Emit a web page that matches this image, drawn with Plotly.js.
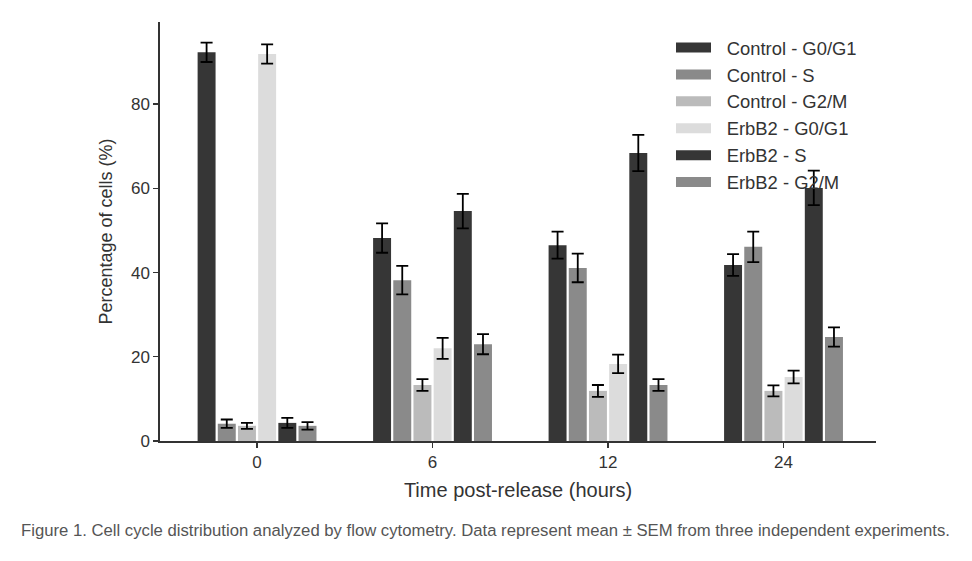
<!DOCTYPE html>
<html>
<head>
<meta charset="utf-8">
<script src="https://cdn.plot.ly/plotly-3.0.1.min.js"></script>
<style>
  html, body { margin: 0; padding: 0; background: #ffffff; }
  #chart { width: 972px; height: 561px; }
</style>
</head>
<body>
<div id="chart"></div>
<script>
// Time points after release (hours)
const timePoints = ['0', '6', '12', '24'];

// Series names and fill colours
const seriesNames = [
  'Control - G0/G1', 'Control - S', 'Control - G2/M',
  'ErbB2 - G0/G1', 'ErbB2 - S', 'ErbB2 - G2/M'
];
const seriesColors = ['#363636', '#8a8a8a', '#bbbbbb', '#dcdcdc', '#363636', '#8a8a8a'];

// Mean percentage of cells per phase
const controlG0G1 = [92.3, 48.2, 46.5, 41.8];
const controlS    = [4.1, 38.2, 41.1, 46.1];
const controlG2M  = [3.6, 13.3, 11.9, 11.9];
const erbb2G0G1   = [91.9, 22.0, 18.3, 15.2];
const erbb2S      = [4.3, 54.6, 68.4, 60.1];
const erbb2G2M    = [3.6, 23.0, 13.3, 24.7];

// Standard error of the mean
const controlG0G1Sem = [2.3, 3.5, 3.2, 2.6];
const controlSSem    = [1.0, 3.4, 3.4, 3.6];
const controlG2MSem  = [0.7, 1.4, 1.4, 1.3];
const erbb2G0G1Sem   = [2.3, 2.5, 2.2, 1.5];
const erbb2SSem      = [1.2, 4.1, 4.3, 4.1];
const erbb2G2MSem    = [0.9, 2.4, 1.4, 2.3];

const means = [controlG0G1, controlS, controlG2M, erbb2G0G1, erbb2S, erbb2G2M];
const sems  = [controlG0G1Sem, controlSSem, controlG2MSem, erbb2G0G1Sem, erbb2SSem, erbb2G2MSem];

const font = 'Liberation Sans, Arial, Helvetica, sans-serif';
const ink = '#333333';

// Plot area in pixels, used to place the caption and legend
const plotL = 160, plotT = 22, plotW = 716, plotH = 419;

const traces = [];
means.forEach((vals, i) => {
  traces.push({
    type: 'bar',
    x: timePoints,
    y: vals,
    name: seriesNames[i],
    showlegend: false,
    marker: { color: seriesColors[i], line: { width: 0 } },
    error_y: { type: 'data', array: sems[i], visible: true, color: '#000000', thickness: 1.8, width: 6 },
    hoverinfo: 'x+y'
  });
});

// Legend entries drawn as wide colour patches; a small leading space
// separates the label from its patch
seriesNames.forEach((name, i) => {
  traces.push({
    type: 'scatter',
    mode: 'lines',
    x: [null],
    y: [null],
    name: '\u2002\u200A' + name,
    legendgroup: 'g' + i,
    line: { color: seriesColors[i], width: 12 },
    hoverinfo: 'skip'
  });
});

const layout = {
  width: 972,
  height: 561,
  margin: { l: plotL, r: 972 - plotL - plotW, t: plotT, b: 561 - plotT - plotH },
  paper_bgcolor: '#ffffff',
  plot_bgcolor: '#ffffff',
  font: { family: font, color: ink, size: 17 },
  barmode: 'group',
  bargap: 0.31,
  bargroupgap: 0.11,
  xaxis: {
    type: 'category',
    range: [-0.553, 3.527],
    showgrid: false,
    zeroline: false,
    showline: true,
    linecolor: ink,
    linewidth: 1.6,
    ticks: 'outside',
    ticklen: 5,
    tickwidth: 1.4,
    tickcolor: ink,
    tickfont: { size: 17, color: ink },
    title: { text: 'Time post-release (hours)', font: { size: 20, color: ink }, standoff: 12 }
  },
  yaxis: {
    range: [0, 99.5],
    tickvals: [0, 20, 40, 60, 80],
    showgrid: false,
    zeroline: false,
    showline: true,
    linecolor: ink,
    linewidth: 1.6,
    ticks: 'outside',
    ticklen: 5,
    tickwidth: 1.4,
    tickcolor: ink,
    tickfont: { size: 17, color: ink },
    title: { text: 'Percentage of cells (%)', font: { size: 18, color: ink }, standoff: 14 }
  },
  legend: {
    x: (671 - plotL) / plotW, xanchor: 'left',
    y: 1 - (29 - plotT) / plotH, yanchor: 'top',
    bgcolor: 'rgba(0,0,0,0)',
    font: { size: 18.4, color: ink },
    tracegroupgap: 0,
    itemwidth: 35
  },
  annotations: [{
    text: 'Figure 1. Cell cycle distribution analyzed by flow cytometry. Data represent mean ± SEM from three independent experiments.',
    xref: 'paper', yref: 'paper',
    x: (485 - plotL) / plotW, xanchor: 'center',
    y: -(530 - plotT - plotH) / plotH, yanchor: 'middle',
    showarrow: false,
    font: { size: 16.7, color: '#555555', family: font }
  }]
};

Plotly.newPlot('chart', traces, layout, { displayModeBar: false, staticPlot: true });
</script>
</body>
</html>
